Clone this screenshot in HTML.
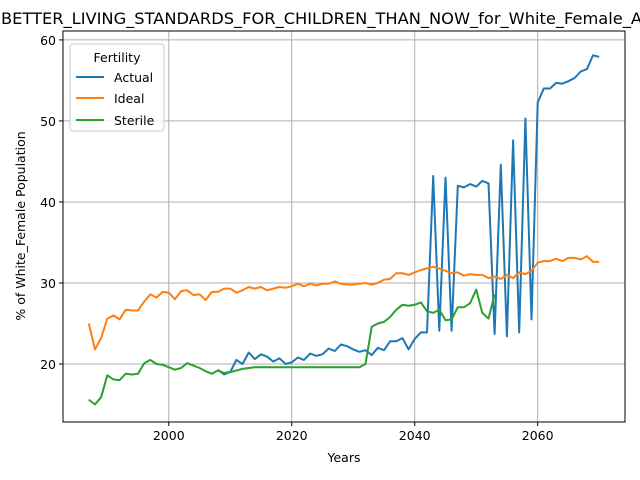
<!DOCTYPE html>
<html><head><meta charset="utf-8"><style>
body{margin:0;background:#fff;}
svg{display:block;font-family:"DejaVu Sans","Liberation Sans",sans-serif;}
</style></head><body>
<svg id="chart" width="640" height="480">
<rect x="0" y="0" width="640" height="480" fill="#fff"/>
<text x="1" y="24" font-size="16" textLength="641" lengthAdjust="spacingAndGlyphs">BETTER_LIVING_STANDARDS_FOR_CHILDREN_THAN_NOW_for_White_Female_A</text>
<g id="grid"></g>
<g id="series"></g>
<rect x="63" y="31" width="562" height="391" fill="none" stroke="#000" stroke-width="1"/>
<g id="axes"></g>
<text x="344" y="462" font-size="12.5" text-anchor="middle">Years</text>
<text transform="translate(25,226) rotate(-90)" font-size="12.5" text-anchor="middle">% of White_Female Population</text>
<g>
<rect x="70" y="44" width="94" height="87" rx="3" fill="#fff" fill-opacity="0.8" stroke="#ccc"/>
<text x="117" y="62" font-size="12.5" text-anchor="middle">Fertility</text>
<g><line x1="76" y1="77" x2="104" y2="77" stroke="#1f77b4" stroke-width="2"/><text x="114" y="82" font-size="12.5">Actual</text></g>
<g><line x1="76" y1="98" x2="104" y2="98" stroke="#ff7f0e" stroke-width="2"/><text x="114" y="103" font-size="12.5">Ideal</text></g>
<g><line x1="76" y1="120" x2="104" y2="120" stroke="#2ca02c" stroke-width="2"/><text x="114" y="125" font-size="12.5">Sterile</text></g>
</g>
</svg>
<script>
const xTicks = [2000, 2020, 2040, 2060];
const yTicks = [20, 30, 40, 50, 60];
const idealStart = 1987;
const idealValues = [25.0,21.8,23.2,25.6,26.0,25.5,26.7,26.6,26.6,27.7,28.6,28.2,28.9,28.8,28.0,29.0,29.1,28.5,28.6,27.9,28.9,28.9,29.3,29.3,28.8,29.1,29.5,29.3,29.5,29.1,29.3,29.5,29.4,29.6,29.9,29.6,29.9,29.7,29.9,29.9,30.2,29.9,29.8,29.8,29.9,30.0,29.8,30.0,30.4,30.5,31.2,31.2,31.0,31.3,31.6,31.8,32.0,31.8,31.5,31.2,31.3,30.9,31.1,31.0,31.0,30.6,30.8,30.5,31.0,30.6,31.3,31.1,31.5,32.5,32.7,32.7,33.0,32.7,33.1,33.1,32.9,33.3,32.6,32.6];
const sterileStart = 1987;
const sterileValues = [15.6,15.0,15.9,18.6,18.1,18.0,18.8,18.7,18.8,20.1,20.5,20.0,19.9,19.6,19.3,19.5,20.1,19.8,19.5,19.1,18.8,19.2,18.9,19.0,19.2,19.4,19.5,19.6,19.6,19.6,19.6,19.6,19.6,19.6,19.6,19.6,19.6,19.6,19.6,19.6,19.6,19.6,19.6,19.6,19.6,20.0,24.6,25.0,25.2,25.8,26.7,27.3,27.2,27.3,27.6,26.5,26.3,26.7,25.4,25.5,27.0,27.0,27.5,29.2,26.3,25.6,28.6];
const actualStart = 2008;
const actualValues = [19.3,18.7,19.0,20.5,20.0,21.4,20.6,21.2,20.9,20.3,20.7,20.0,20.2,20.8,20.5,21.3,21.0,21.2,21.9,21.6,22.4,22.2,21.8,21.5,21.7,21.1,22.0,21.7,22.8,22.8,23.2,21.8,23.1,23.9,23.9,43.2,24.1,43.0,24.1,42.0,41.8,42.2,41.9,42.6,42.3,23.7,44.6,23.4,47.6,23.9,50.3,25.5,52.3,54.0,54.0,54.7,54.6,54.9,55.3,56.1,56.4,58.1,57.9];

const X0 = 63, X1 = 625, Y0 = 422, Y1 = 31;
const xMin = 1982.8, xMax = 2074.2, yMin = 12.84, yMax = 61.1;
const xs = v => X0 + (v - xMin) / (xMax - xMin) * (X1 - X0);
const ys = v => Y0 - (v - yMin) / (yMax - yMin) * (Y0 - Y1);
const NS = 'http://www.w3.org/2000/svg';
const grid = document.getElementById('grid'), axes = document.getElementById('axes'), series = document.getElementById('series');
function mk(tag, attrs, parent){const e=document.createElementNS(NS,tag);for(const k in attrs)e.setAttribute(k,attrs[k]);parent.appendChild(e);return e;}
xTicks.forEach(t => {
  const x = xs(t);
  const g = mk('line',{x1:x,x2:x,y1:Y1,y2:Y0,stroke:'#b0b0b0','stroke-width':1},grid);
  
  
  mk('line',{x1:x,x2:x,y1:Y0,y2:Y0+4,stroke:'#000'},axes);
  const l = mk('text',{x:x,y:Y0+18,'font-size':12.5,'text-anchor':'middle'},axes);
  l.textContent = t;
  
  
});
yTicks.forEach(t => {
  const y = ys(t);
  const g = mk('line',{x1:X0,x2:X1,y1:y,y2:y,stroke:'#b0b0b0','stroke-width':1},grid);
  
  
  mk('line',{x1:X0-4,x2:X0,y1:y,y2:y,stroke:'#000'},axes);
  const l = mk('text',{x:X0-7,y:y+5,'font-size':12.5,'text-anchor':'end'},axes);
  l.textContent = t;
  
  
});
function drawLine(start, vals, color, name){
  const pts = vals.map((v,i)=>xs(start+i).toFixed(1)+','+ys(v).toFixed(1)).join(' ');
  const p = mk('polyline',{points:pts,fill:'none',stroke:color,'stroke-width':2,'stroke-linejoin':'round'},series);
  
  
}
drawLine(actualStart, actualValues, '#1f77b4', 'actual-line');
drawLine(idealStart, idealValues, '#ff7f0e', 'ideal-line');
drawLine(sterileStart, sterileValues, '#2ca02c', 'sterile-line');
</script>
</body></html>
